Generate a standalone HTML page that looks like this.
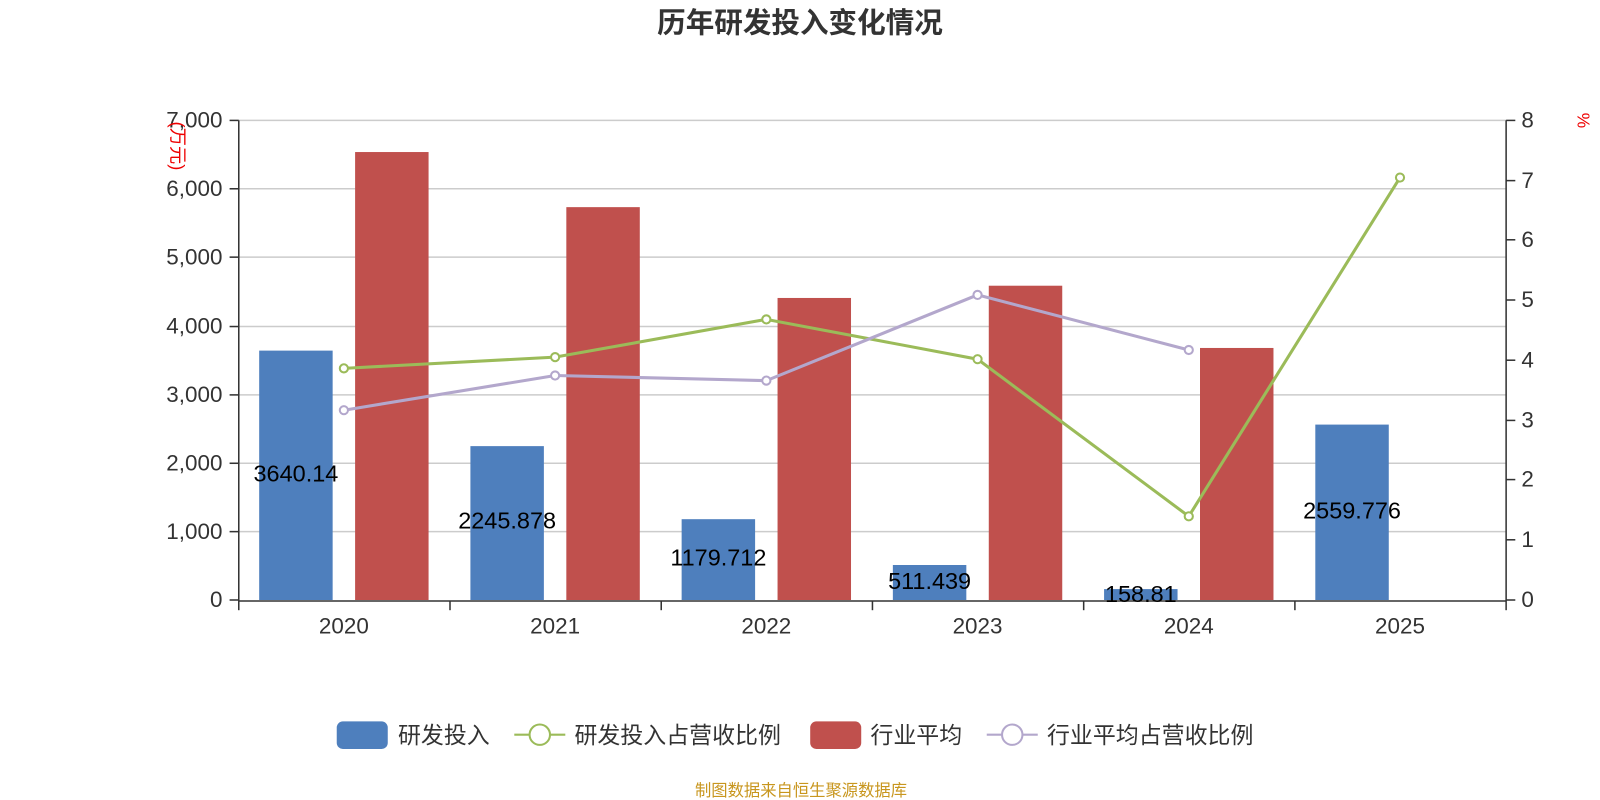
<!DOCTYPE html>
<html><head><meta charset="utf-8"><style>
html,body{margin:0;padding:0;background:#fff;}
svg text{font-family:"Liberation Sans","Noto Sans CJK SC",sans-serif;}
</style></head><body>
<svg width="1600" height="800" viewBox="0 0 1568 784" xmlns="http://www.w3.org/2000/svg" style="display:block">
<text x="784" y="32" text-anchor="middle" font-size="28" font-weight="bold" fill="#333">历年研发投入变化情况</text>
<g stroke="#ccc" stroke-width="1.5">
<line x1="234" x2="1476" y1="118" y2="118"/><line x1="234" x2="1476" y1="185" y2="185"/>
<line x1="234" x2="1476" y1="252" y2="252"/><line x1="234" x2="1476" y1="320" y2="320"/>
<line x1="234" x2="1476" y1="387" y2="387"/><line x1="234" x2="1476" y1="454" y2="454"/>
<line x1="234" x2="1476" y1="521" y2="521"/>
</g>
<g fill="#4e7fbd">
<rect x="254" y="343.6" width="72" height="244.4"/>
<rect x="461" y="437.2" width="72" height="150.8"/>
<rect x="668" y="508.8" width="72" height="79.2"/>
<rect x="875" y="553.7" width="72" height="34.3"/>
<rect x="1082" y="577.3" width="72" height="10.7"/>
<rect x="1289" y="416.1" width="72" height="171.9"/>
</g>
<g fill="#c0504d">
<rect x="348" y="149" width="72" height="439"/>
<rect x="555" y="203" width="72" height="385"/>
<rect x="762" y="292" width="72" height="296"/>
<rect x="969" y="280" width="72" height="308"/>
<rect x="1176" y="341" width="72" height="247"/>
</g>
<g stroke="#333" stroke-width="1.5">
<line x1="234" x2="1476" y1="589" y2="589"/>
<line x1="234" x2="234" y1="118" y2="589"/>
<line x1="1476" x2="1476" y1="118" y2="589"/>
<line x1="234" x2="234" y1="589" y2="598"/><line x1="441" x2="441" y1="589" y2="598"/>
<line x1="648" x2="648" y1="589" y2="598"/><line x1="855" x2="855" y1="589" y2="598"/>
<line x1="1062" x2="1062" y1="589" y2="598"/><line x1="1269" x2="1269" y1="589" y2="598"/>
<line x1="1476" x2="1476" y1="589" y2="598"/>
<line x1="225" x2="234" y1="118" y2="118"/><line x1="225" x2="234" y1="185" y2="185"/>
<line x1="225" x2="234" y1="252" y2="252"/><line x1="225" x2="234" y1="320" y2="320"/>
<line x1="225" x2="234" y1="387" y2="387"/><line x1="225" x2="234" y1="454" y2="454"/>
<line x1="225" x2="234" y1="521" y2="521"/><line x1="225" x2="234" y1="588" y2="588"/>
<line x1="1476" x2="1485" y1="118" y2="118"/><line x1="1476" x2="1485" y1="177" y2="177"/>
<line x1="1476" x2="1485" y1="235" y2="235"/><line x1="1476" x2="1485" y1="294" y2="294"/>
<line x1="1476" x2="1485" y1="353" y2="353"/><line x1="1476" x2="1485" y1="412" y2="412"/>
<line x1="1476" x2="1485" y1="470" y2="470"/><line x1="1476" x2="1485" y1="529" y2="529"/>
<line x1="1476" x2="1485" y1="588" y2="588"/>
</g>
<g font-size="22" fill="#333" text-anchor="end">
<text x="218" y="125">7,000</text><text x="218" y="192">6,000</text><text x="218" y="259">5,000</text>
<text x="218" y="327">4,000</text><text x="218" y="394">3,000</text><text x="218" y="461">2,000</text>
<text x="218" y="528">1,000</text><text x="218" y="595">0</text>
</g>
<g font-size="22" fill="#333">
<text x="1491" y="125">8</text><text x="1491" y="184">7</text><text x="1491" y="242">6</text>
<text x="1491" y="301">5</text><text x="1491" y="360">4</text><text x="1491" y="419">3</text>
<text x="1491" y="477">2</text><text x="1491" y="536">1</text><text x="1491" y="595">0</text>
</g>
<g font-size="22" fill="#333" text-anchor="middle">
<text x="337" y="621">2020</text><text x="544" y="621">2021</text><text x="751" y="621">2022</text>
<text x="958" y="621">2023</text><text x="1165" y="621">2024</text><text x="1372" y="621">2025</text>
</g>
<text transform="translate(168,143) rotate(90)" font-size="18" fill="#e00" text-anchor="middle">(万元)</text>
<text transform="translate(1546,118) rotate(90)" font-size="17" fill="#e00" text-anchor="middle">%</text>
<polyline points="337,361 544,350 751,313 958,352 1165,506 1372,174" fill="none" stroke="#9bbb59" stroke-width="3"/>
<polyline points="337,402 544,368 751,373 958,289 1165,343" fill="none" stroke="#b3a7cc" stroke-width="3"/>
<g fill="#fff" stroke="#9bbb59" stroke-width="2">
<circle cx="337" cy="361" r="4"/><circle cx="544" cy="350" r="4"/><circle cx="751" cy="313" r="4"/>
<circle cx="958" cy="352" r="4"/><circle cx="1165" cy="506" r="4"/><circle cx="1372" cy="174" r="4"/>
</g>
<g fill="#fff" stroke="#b3a7cc" stroke-width="2">
<circle cx="337" cy="402" r="4"/><circle cx="544" cy="368" r="4"/><circle cx="751" cy="373" r="4"/>
<circle cx="958" cy="289" r="4"/><circle cx="1165" cy="343" r="4"/>
</g>
<g font-size="23" fill="#000" text-anchor="middle">
<text x="290" y="472">3640.14</text><text x="497" y="518">2245.878</text><text x="704" y="554">1179.712</text>
<text x="911" y="577">511.439</text><text x="1118" y="590">158.81</text><text x="1325" y="508">2559.776</text>
</g>
<rect x="330" y="707" width="50" height="27" rx="6" fill="#4e7fbd"/>
<text x="390" y="728" font-size="22.5" fill="#333">研发投入</text>
<line x1="504" x2="554" y1="720" y2="720" stroke="#9bbb59" stroke-width="2"/>
<circle cx="529" cy="720" r="10" fill="#fff" stroke="#9bbb59" stroke-width="2"/>
<text x="563" y="728" font-size="22.5" fill="#333">研发投入占营收比例</text>
<rect x="794" y="707" width="50" height="27" rx="6" fill="#c0504d"/>
<text x="853" y="728" font-size="22.5" fill="#333">行业平均</text>
<line x1="967" x2="1017" y1="720" y2="720" stroke="#b3a7cc" stroke-width="2"/>
<circle cx="992" cy="720" r="10" fill="#fff" stroke="#b3a7cc" stroke-width="2"/>
<text x="1026" y="728" font-size="22.5" fill="#333">行业平均占营收比例</text>
<text x="785" y="780" font-size="16" fill="#c8961e" text-anchor="middle">制图数据来自恒生聚源数据库</text>
</svg>
</body></html>
